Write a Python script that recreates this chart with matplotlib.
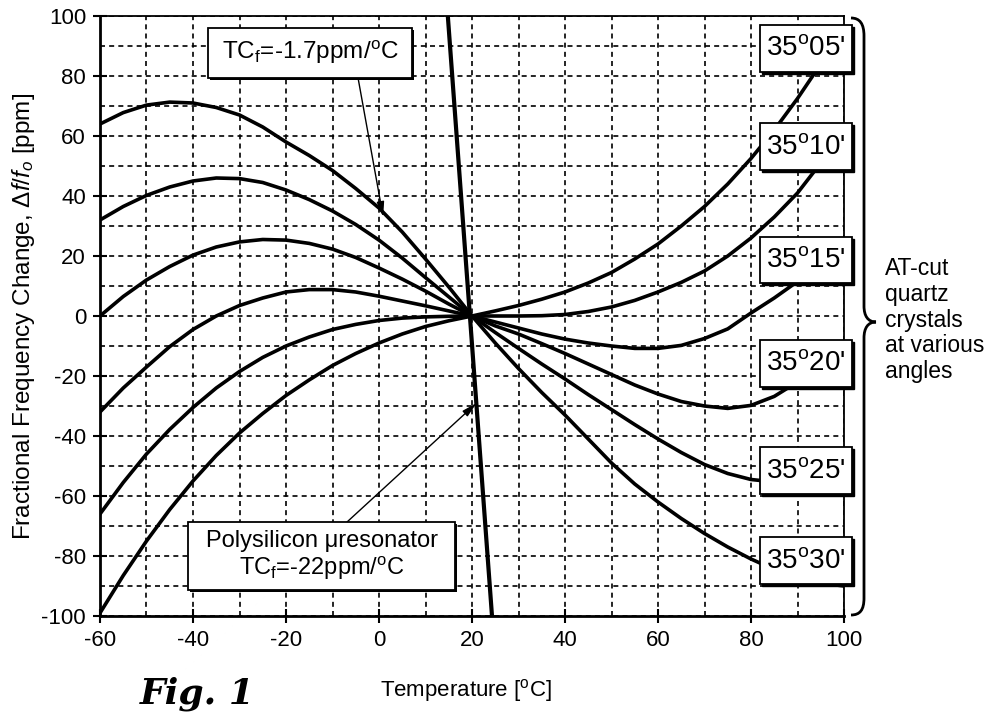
import matplotlib
matplotlib.use("Agg")
import matplotlib.pyplot as plt
from matplotlib.patches import Rectangle, PathPatch
from matplotlib.path import Path

# ---- data (temperature in degC, frequency change in ppm) ----
temps = [-60, -55, -50, -45, -40, -35, -30, -25, -20, -15, -10, -5, 0, 5, 10, 15, 20,
         25, 30, 35, 40, 45, 50, 55, 60, 65, 70, 75, 80, 85, 90, 95, 100]

ppm_35_05 = [-99, -86.5, -75, -64.5, -55, -46.5, -39, -32.5, -26.5, -21.3, -16.5, -12.5, -9, -6, -3.5, -1.6, 0,
             1.7, 3.5, 5.6, 8, 11, 14.5, 19, 24, 30, 36.5, 44, 52.5, 62, 72.5, 84, 96.5]
ppm_35_10 = [-66, -55.5, -46, -37.8, -30.5, -24, -18.5, -13.8, -10, -7, -4.5, -2.8, -1.5, -0.7, -0.3, -0.1, 0,
             0, 0, 0.1, 0.5, 1.5, 3, 5.2, 8, 11.2, 15, 20, 26, 33, 41, 51, 62]
ppm_35_15 = [-32, -24, -17, -10.2, -4.5, 0, 3.5, 6, 8, 8.8, 8.8, 8, 6.6, 5, 3.4, 1.7, 0,
             -2, -4, -6, -7.7, -9, -10, -10.8, -10.8, -9.8, -7.5, -4.3, 1, 6, 11.5, 18, 25]
ppm_35_20 = [0, 6.5, 12, 16.5, 20.3, 23, 24.7, 25.5, 25.3, 24.2, 22.3, 19.5, 16, 12.3, 8.3, 4, 0,
             -3.3, -6, -9.2, -12.5, -16, -19.5, -23, -26, -28.5, -30, -30.8, -29.8, -26.8, -22, -16.5, -10]
ppm_35_25 = [32, 36.5, 40.2, 43, 45, 46, 45.8, 44.5, 42, 38.8, 35, 30.5, 25.3, 19.3, 12.8, 6.4, 0,
             -5.5, -10.8, -16, -21, -26.2, -31.2, -36.2, -41, -45.5, -49.5, -52.5, -54.5, -55.3, -55, -53.8, -52]
ppm_35_30 = [64, 67.8, 70.3, 71.3, 71, 69.5, 67, 63, 58, 53.5, 48.5, 42.5, 36, 28, 19, 9.7, 0,
             -9, -17.5, -25.5, -33, -41, -49, -56, -62, -67.5, -72.5, -77, -81, -84.5, -87, -89, -90]

angle_labels = ["35$^{\\rm o}$05'", "35$^{\\rm o}$10'", "35$^{\\rm o}$15'",
                "35$^{\\rm o}$20'", "35$^{\\rm o}$25'", "35$^{\\rm o}$30'"]

# polysilicon resonator, TCf = -22 ppm/degC
poly_temp = [14.8, 24.3]
poly_ppm = [100, -100]

# ---- layout ----
label_y = [89.2, 56.5, 18.7, -15.8, -51.5, -81.5]   # centres of the angle boxes (ppm)
W, H = 993, 712

plt.rcParams['font.family'] = ['Liberation Sans', 'DejaVu Sans']
plt.rcParams['mathtext.fontset'] = 'custom'
plt.rcParams['mathtext.rm'] = 'Liberation Sans'
plt.rcParams['mathtext.it'] = 'Liberation Sans:italic'
plt.rcParams['axes.unicode_minus'] = False

fig = plt.figure(figsize=(W / 100, H / 100), dpi=100)
ax = fig.add_axes([100 / W, 1 - 616 / H, 744 / W, 600 / H])

curves = [ppm_35_05, ppm_35_10, ppm_35_15, ppm_35_20, ppm_35_25, ppm_35_30]
for c in curves:
    ax.plot(temps, c, color='black', lw=2.6, zorder=3)
ax.plot(poly_temp, poly_ppm, color='black', lw=3.0, zorder=3)

ax.set_xlim(-60, 100)
ax.set_ylim(-100, 100)
ax.set_xticks(range(-60, 101, 20))
ax.set_yticks(range(-100, 101, 20))
ax.set_xticks(range(-50, 100, 20), minor=True)
ax.set_yticks(range(-90, 100, 20), minor=True)
ax.tick_params(which='major', direction='inout', length=10, width=1.5, labelsize=16, pad=5)
ax.tick_params(which='minor', length=0)
ax.grid(which='both', color='black', lw=1.2, linestyle=(0, (3, 2.5)), zorder=1)
for s in ['left', 'bottom']:
    ax.spines[s].set_linewidth(2)
for s in ['top', 'right']:
    ax.spines[s].set_linewidth(1.3)

ax.set_ylabel("Fractional Frequency Change, $\\Delta f/f_o$ [ppm]", fontsize=17.5, labelpad=3)
fig.text(380 / W, 1 - 690 / H, "Temperature [$^{\\rm o}$C]", fontsize=16, va='center', ha='left')

# angle label boxes straddling the right edge
bx0, bw, bh = 81.9, 19.8, 15.5
for lab, yc in zip(angle_labels, label_y):
    ax.add_patch(Rectangle((bx0 + 0.45, yc - bh / 2 - 0.7), bw, bh, facecolor='black',
                           edgecolor='black', zorder=5, clip_on=False))
    ax.add_patch(Rectangle((bx0, yc - bh / 2), bw, bh, facecolor='white',
                           edgecolor='black', lw=1.3, zorder=5, clip_on=False))
    ax.text(bx0 + bw / 2, yc, lab, ha='center', va='center', fontsize=20, zorder=6, clip_on=False)

# TCf = -1.7 box and arrow
ax.add_patch(Rectangle((-36.4, 78.6), 43.9, 16.7, facecolor='black', zorder=5))
ax.add_patch(Rectangle((-36.8, 79.3), 43.9, 16.7, facecolor='white', edgecolor='black', lw=1.3, zorder=5))
ax.text(-14.8, 87.7, "TC$_{\\rm f}$=-1.7ppm/$^{\\rm o}$C", ha='center', va='center', fontsize=17.5, zorder=6)
ax.annotate('', xy=(0.9, 33), xytext=(-4.5, 79.3), zorder=4,
            arrowprops=dict(arrowstyle='-|>,head_length=0.9,head_width=0.22', color='black',
                            lw=1.0, shrinkA=0, shrinkB=0))

# polysilicon box and arrow
ax.add_patch(Rectangle((-40.6, -92.0), 57.3, 22.6, facecolor='black', zorder=5))
ax.add_patch(Rectangle((-41, -91.3), 57.3, 22.6, facecolor='white', edgecolor='black', lw=1.3, zorder=5))
ax.text(-12.3, -80, "Polysilicon \u03bcresonator\nTC$_{\\rm f}$=-22ppm/$^{\\rm o}$C", ha='center',
        va='center', fontsize=17, linespacing=1.15, zorder=6)
ax.annotate('', xy=(21, -29), xytext=(-6.9, -68.7), zorder=4,
            arrowprops=dict(arrowstyle='-|>,head_length=0.9,head_width=0.22', color='black',
                            lw=1.0, shrinkA=0, shrinkB=0))

# curly brace grouping the quartz curves
def fp(x, y):
    return (x / W, 1 - y / H)

verts = [fp(851, 18), fp(860, 18), fp(864, 24), fp(864, 36),
         fp(864, 306),
         fp(864, 316), fp(868, 322), fp(876, 322),
         fp(868, 322), fp(864, 328), fp(864, 338),
         fp(864, 598),
         fp(864, 610), fp(860, 615), fp(851, 615)]
codes = [Path.MOVETO, Path.CURVE4, Path.CURVE4, Path.CURVE4,
         Path.LINETO,
         Path.CURVE4, Path.CURVE4, Path.CURVE4,
         Path.CURVE4, Path.CURVE4, Path.CURVE4,
         Path.LINETO,
         Path.CURVE4, Path.CURVE4, Path.CURVE4]
fig.patches.append(PathPatch(Path(verts, codes), transform=fig.transFigure, facecolor='none',
                             edgecolor='black', lw=2))
fig.text(885 / W, 1 - 320 / H, "AT-cut\nquartz\ncrystals\nat various\nangles", fontsize=16.5,
         ha='left', va='center', linespacing=1.15)

fig.text(140 / W, 1 - 711 / H, "Fig. 1", fontsize=26, family='DejaVu Serif', style='italic',
         weight='bold', ha='left', va='bottom')

fig.savefig("out.png", dpi=100)
